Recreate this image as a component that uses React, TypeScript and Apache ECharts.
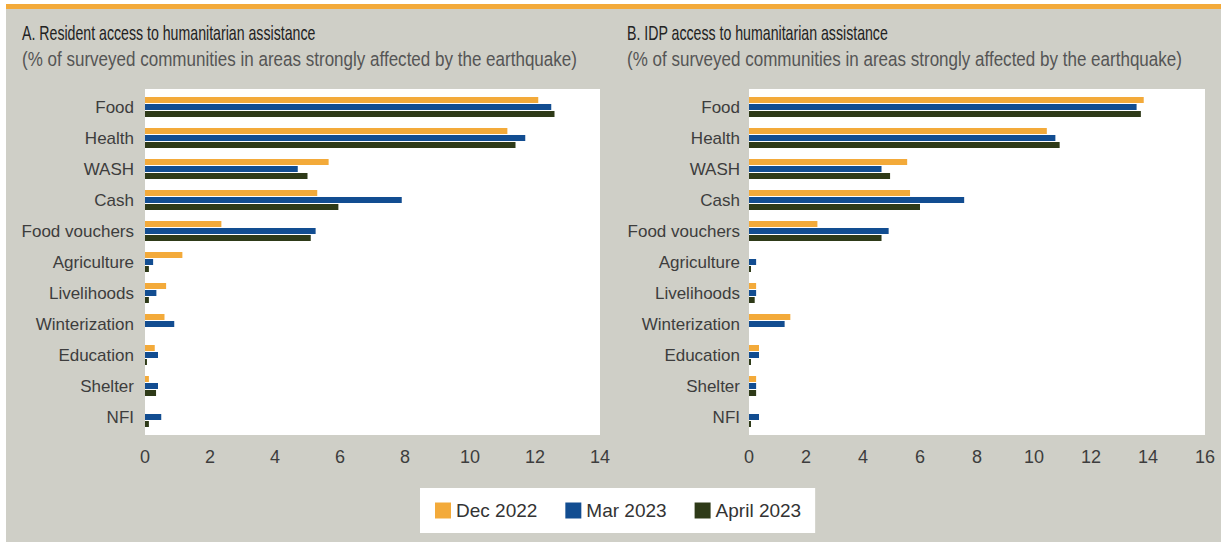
import React, { useEffect, useRef } from "react";
import * as echarts from "echarts";

const categories = [
  "Food",
  "Health",
  "WASH",
  "Cash",
  "Food vouchers",
  "Agriculture",
  "Livelihoods",
  "Winterization",
  "Education",
  "Shelter",
  "NFI",
];

const seriesNames = ["Dec 2022", "Mar 2023", "April 2023"];

const titleA = "A. Resident access to humanitarian assistance";
const titleB = "B. IDP access to humanitarian assistance";
const subtitle = "(% of surveyed communities in areas strongly affected by the earthquake)";

// Panel A: residents
const residentDec2022 = [12.1, 11.15, 5.65, 5.3, 2.35, 1.15, 0.65, 0.6, 0.3, 0.12, 0];
const residentMar2023 = [12.5, 11.7, 4.7, 7.9, 5.25, 0.25, 0.35, 0.9, 0.4, 0.4, 0.5];
const residentApr2023 = [12.6, 11.4, 5.0, 5.95, 5.1, 0.12, 0.12, 0, 0.06, 0.34, 0.12];

// Panel B: IDPs
const idpDec2022 = [13.85, 10.45, 5.55, 5.65, 2.4, 0, 0.25, 1.45, 0.35, 0.25, 0];
const idpMar2023 = [13.6, 10.75, 4.65, 7.55, 4.9, 0.25, 0.25, 1.25, 0.35, 0.25, 0.35];
const idpApr2023 = [13.75, 10.9, 4.95, 6.0, 4.65, 0.07, 0.2, 0, 0.07, 0.25, 0.07];

const xTicksA = { min: 0, max: 14, interval: 2 };
const xTicksB = { min: 0, max: 16, interval: 2 };

const colors = ["#F3AA3A", "#124D91", "#2E3A18"];
const FONT = "'Liberation Sans', Arial, sans-serif";

export default function App() {
  const ref = useRef<HTMLDivElement>(null);

  useEffect(() => {
    if (!ref.current) return;
    const chart = echarts.init(ref.current, undefined, { renderer: "svg" });

    const makeSeries = (gridIdx: number, data: number[][]) =>
      data.map((d, i) => ({
        name: seriesNames[i],
        type: "bar",
        xAxisIndex: gridIdx,
        yAxisIndex: gridIdx,
        data: d,
        barWidth: 6,
        barGap: "17%",
        itemStyle: { color: colors[i] },
      }));

    const xAxisCommon = {
      type: "value",
      axisLine: { show: false },
      axisTick: { show: false },
      splitLine: { show: false },
      axisLabel: { color: "#3d3d3d", fontSize: 18, fontFamily: FONT, margin: 15 },
    };
    const yAxisCommon = {
      type: "category",
      data: categories,
      inverse: true,
      axisLine: { show: false },
      axisTick: { show: false },
      splitLine: { show: false },
      axisLabel: { color: "#3d3d3d", fontSize: 17, fontFamily: FONT, margin: 11 },
    };

    const titleText = (text: string, x: number, y: number, fill: string, size: number, sx: number) => ({
      type: "text",
      x,
      y,
      scaleX: sx,
      style: {
        text,
        fill,
        fontSize: size,
        fontFamily: FONT,
        verticalAlign: "top",
        align: "left",
      },
    });

    chart.setOption({
      animation: false,
      backgroundColor: "#ffffff",
      textStyle: { fontFamily: FONT },
      graphic: [
        { type: "rect", z: -10, shape: { x: 6, y: 4, width: 1215, height: 538 }, style: { fill: "#CFCFC7" } },
        { type: "rect", z: -9, shape: { x: 6, y: 4, width: 1215, height: 5 }, style: { fill: "#F3AA3A" } },
        { type: "rect", z: -9, shape: { x: 145, y: 89, width: 455, height: 346 }, style: { fill: "#ffffff" } },
        { type: "rect", z: -9, shape: { x: 749, y: 89, width: 456, height: 346 }, style: { fill: "#ffffff" } },
        titleText(titleA, 22, 23, "#222", 20, 0.708),
        titleText(subtitle, 22, 49, "#555", 19.5, 0.873),
        titleText(titleB, 627, 23, "#222", 20, 0.708),
        titleText(subtitle, 627, 49, "#555", 19.5, 0.873),
      ],
      legend: {
        data: seriesNames,
        left: 420,
        top: 488,
        orient: "horizontal",
        backgroundColor: "#ffffff",
        padding: [13, 14, 13, 15],
        itemWidth: 16,
        itemHeight: 16,
        itemGap: 28,
        icon: "rect",
        textStyle: { fontSize: 19, color: "#333", fontFamily: FONT },
      },
      grid: [
        { left: 145, width: 455, top: 91.5, height: 341, containLabel: false },
        { left: 749, width: 456, top: 91.5, height: 341, containLabel: false },
      ],
      xAxis: [
        { ...xAxisCommon, gridIndex: 0, ...xTicksA },
        { ...xAxisCommon, gridIndex: 1, ...xTicksB },
      ],
      yAxis: [
        { ...yAxisCommon, gridIndex: 0 },
        { ...yAxisCommon, gridIndex: 1, axisLabel: { ...yAxisCommon.axisLabel, margin: 9 } },
      ],
      series: [
        ...makeSeries(0, [residentDec2022, residentMar2023, residentApr2023]),
        ...makeSeries(1, [idpDec2022, idpMar2023, idpApr2023]),
      ],
    });

    return () => chart.dispose();
  }, []);

  return (
    <div
      ref={ref}
      style={{ position: "fixed", left: 0, top: 0, width: 1221, height: 543 }}
    />
  );
}
